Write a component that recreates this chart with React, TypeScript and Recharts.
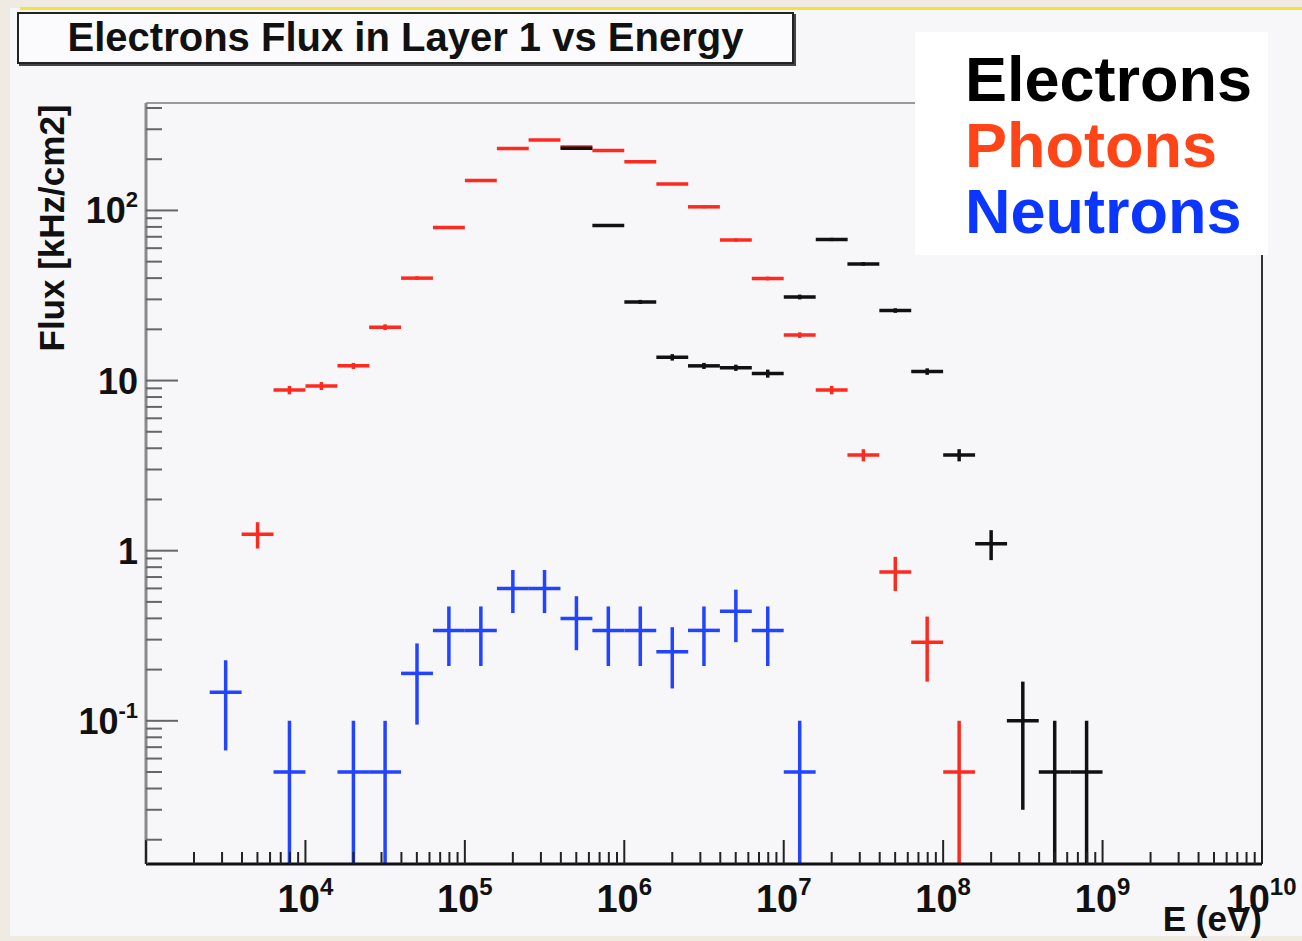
import React from 'react';
import { ErrorBar, ReferenceLine, Scatter, ScatterChart, XAxis, YAxis } from 'recharts';

// bin centres (eV), flux values (kHz/cm2) and their errors
const photonEnergy = [5.01e3, 7.94e3, 1.26e4, 2.0e4, 3.16e4, 5.01e4, 7.94e4, 1.26e5, 2.0e5, 3.16e5, 5.01e5, 7.94e5, 1.26e6, 2.0e6, 3.16e6, 5.01e6, 7.94e6, 1.26e7, 2.0e7, 3.16e7, 5.01e7, 7.94e7, 1.26e8];
const photonFlux = [1.25, 8.8, 9.3, 12.2, 20.6, 40, 79.5, 150, 231, 259, 236, 225, 193, 143, 105, 67, 39.8, 18.5, 8.8, 3.65, 0.75, 0.29, 0.05];
const photonErr = [0.22, 0.5, 0.5, 0.5, 0.8, 1, 1.5, 2, 3, 3, 3, 3, 3, 2, 2, 1.5, 1, 0.7, 0.5, 0.3, 0.17, 0.12, 0.05];

const electronEnergy = [5.01e5, 7.94e5, 1.26e6, 2.0e6, 3.16e6, 5.01e6, 7.94e6, 1.26e7, 2.0e7, 3.16e7, 5.01e7, 7.94e7, 1.26e8, 2.0e8, 3.16e8, 5.01e8, 7.94e8];
const electronFlux = [232, 81.5, 29, 13.7, 12.2, 11.9, 11.0, 31, 67.5, 48.5, 25.8, 11.3, 3.65, 1.1, 0.1, 0.05, 0.05];
const electronErr = [3, 1.5, 0.8, 0.6, 0.5, 0.5, 0.6, 1, 1.5, 1.2, 0.8, 0.5, 0.3, 0.22, 0.07, 0.05, 0.05];

const neutronEnergy = [3.16e3, 7.94e3, 2.0e4, 3.16e4, 5.01e4, 7.94e4, 1.26e5, 2.0e5, 3.16e5, 5.01e5, 7.94e5, 1.26e6, 2.0e6, 3.16e6, 5.01e6, 7.94e6, 1.26e7];
const neutronFlux = [0.147, 0.05, 0.05, 0.05, 0.19, 0.34, 0.34, 0.6, 0.6, 0.4, 0.34, 0.34, 0.255, 0.34, 0.44, 0.34, 0.05];
const neutronErr = [0.08, 0.05, 0.05, 0.05, 0.095, 0.13, 0.13, 0.17, 0.17, 0.14, 0.13, 0.13, 0.1, 0.13, 0.15, 0.13, 0.05];

const xDecades = [3, 4, 5, 6, 7, 8, 9, 10];
const yDecades = [-2, -1, 0, 1, 2];
const yLabels: Record<number, [string, string]> = { 2: ['10', '2'], 1: ['10', ''], 0: ['1', ''], [-1]: ['10', '-1'] };

const X_MIN = 1e3;
const X_MAX = 1e10;
const Y_MIN = 0.0144;
const Y_MAX = 428;
const BIN_HALF = 0.1; // half bin width in decades

const FONT = '"Liberation Sans", Arial, sans-serif';
const RED = '#ff2a1f';
const BLUE = '#2244ff';
const BLACK = '#111111';

function buildSeries(energy: number[], flux: number[], err: number[]) {
  return energy.map((e, i) => ({
    x: e,
    y: flux[i],
    ex: [e - e / Math.pow(10, BIN_HALF), e * Math.pow(10, BIN_HALF) - e],
    ey: [Math.min(err[i], flux[i] - Y_MIN), err[i]],
  }));
}

const photons = buildSeries(photonEnergy, photonFlux, photonErr);
const electrons = buildSeries(electronEnergy, electronFlux, electronErr);
const neutrons = buildSeries(neutronEnergy, neutronFlux, neutronErr);

const xTicks: number[] = [];
xDecades.forEach((d) => {
  for (let m = 1; m <= 9; m++) {
    const v = m * Math.pow(10, d);
    if (v >= X_MIN && v <= X_MAX) xTicks.push(v);
  }
});
const yTicks: number[] = [];
yDecades.forEach((d) => {
  for (let m = 1; m <= 9; m++) {
    const v = m * Math.pow(10, d);
    if (v >= Y_MIN && v <= Y_MAX) yTicks.push(v);
  }
});

const decadeOf = (v: number) => {
  const l = Math.log10(v);
  return Math.abs(l - Math.round(l)) < 1e-6 ? Math.round(l) : null;
};

function XTick(props: any) {
  const { x, y, payload } = props;
  const d = decadeOf(payload.value);
  const major = d !== null;
  return (
    <g>
      <line x1={x} x2={x} y1={y} y2={y - (major ? 24 : 12)} stroke="#222" strokeWidth={2} />
      {major && d! > 3 && (
        <text x={x} y={y + 48} textAnchor="middle" fontFamily={FONT} fontWeight="bold" fontSize={38} fill="#111">
          10
          <tspan dy={-17} fontSize={24}>{d}</tspan>
        </text>
      )}
    </g>
  );
}

function YTick(props: any) {
  const { x, y, payload } = props;
  const d = decadeOf(payload.value);
  const major = d !== null;
  const lab = d !== null ? yLabels[d] : undefined;
  return (
    <g>
      <line x1={x} x2={x + (major ? 32 : 16)} y1={y} y2={y} stroke="#666" strokeWidth={2} />
      {lab && (
        <text x={x - 8} y={y + 13} textAnchor="end" fontFamily={FONT} fontWeight="bold" fontSize={36} fill="#111">
          {lab[0]}
          {lab[1] && <tspan dy={-16} fontSize={22}>{lab[1]}</tspan>}
        </text>
      )}
    </g>
  );
}

const noMarker = () => <g />;

export default function App() {
  return (
    <div style={{ position: 'absolute', left: 0, top: 0, width: 1302, height: 941, background: '#efebe3', overflow: 'hidden' }}>
      <div style={{ position: 'absolute', left: 10, top: 8, right: 0, bottom: 5, background: '#f7f6f9' }} />
      <div style={{ position: 'absolute', left: 20, top: 7, right: 0, height: 3, background: '#f2e33a' }} />

      <div style={{ position: 'absolute', left: 0, top: 0 }}>
        <ScatterChart width={1302} height={941} margin={{ top: 103, right: 40, bottom: 17, left: 46 }}>
          <XAxis
            type="number"
            dataKey="x"
            scale="log"
            domain={[X_MIN, X_MAX]}
            allowDataOverflow
            ticks={xTicks}
            interval={0}
            tick={<XTick />}
            tickLine={false}
            tickSize={0}
            tickMargin={0}
            height={60}
            axisLine={{ stroke: '#111', strokeWidth: 3 }}
          />
          <YAxis
            type="number"
            dataKey="y"
            scale="log"
            domain={[Y_MIN, Y_MAX]}
            allowDataOverflow
            ticks={yTicks}
            interval={0}
            tick={<YTick />}
            tickLine={false}
            tickSize={0}
            tickMargin={0}
            width={100}
            axisLine={{ stroke: '#8a8a8a', strokeWidth: 3 }}
          />
          <ReferenceLine y={Y_MAX} stroke="#9a9a9a" strokeWidth={2} />
          <ReferenceLine x={X_MAX} stroke="#333" strokeWidth={2} />
          <Scatter data={photons} fill={RED} shape={noMarker} isAnimationActive={false}>
            <ErrorBar dataKey="ex" direction="x" width={0} stroke={RED} strokeWidth={3.5} isAnimationActive={false} />
            <ErrorBar dataKey="ey" direction="y" width={0} stroke={RED} strokeWidth={3.5} isAnimationActive={false} />
          </Scatter>
          <Scatter data={electrons} fill={BLACK} shape={noMarker} isAnimationActive={false}>
            <ErrorBar dataKey="ex" direction="x" width={0} stroke={BLACK} strokeWidth={3.5} isAnimationActive={false} />
            <ErrorBar dataKey="ey" direction="y" width={0} stroke={BLACK} strokeWidth={3.5} isAnimationActive={false} />
          </Scatter>
          <Scatter data={neutrons} fill={BLUE} shape={noMarker} isAnimationActive={false}>
            <ErrorBar dataKey="ex" direction="x" width={0} stroke={BLUE} strokeWidth={3.5} isAnimationActive={false} />
            <ErrorBar dataKey="ey" direction="y" width={0} stroke={BLUE} strokeWidth={3.5} isAnimationActive={false} />
          </Scatter>
        </ScatterChart>
      </div>

      <div
        style={{
          position: 'absolute',
          left: 52,
          top: 228,
          transform: 'translate(-50%, -50%) rotate(-90deg)',
          whiteSpace: 'nowrap',
          fontFamily: FONT,
          fontWeight: 'bold',
          fontSize: 35,
          color: '#111',
        }}
      >
        Flux [kHz/cm2]
      </div>

      <div
        style={{
          position: 'absolute',
          right: 40,
          top: 899,
          fontFamily: FONT,
          fontWeight: 'bold',
          fontSize: 35,
          color: '#111',
          lineHeight: '40px',
        }}
      >
        E (eV)
      </div>

      <div
        style={{
          position: 'absolute',
          left: 17,
          top: 12,
          width: 773,
          height: 48,
          border: '2px solid #222',
          boxShadow: '2px 2px 0 #444',
          background: '#fbfafc',
          fontFamily: FONT,
          fontWeight: 'bold',
          fontSize: 40,
          lineHeight: '46px',
          textAlign: 'center',
          color: '#111',
        }}
      >
        Electrons Flux in Layer 1 vs Energy
      </div>

      <div
        style={{
          position: 'absolute',
          left: 915,
          top: 32,
          width: 353,
          height: 223,
          background: '#ffffff',
          fontFamily: FONT,
          fontWeight: 'bold',
          fontSize: 63,
          lineHeight: '66px',
          paddingLeft: 50,
          paddingTop: 14,
          boxSizing: 'border-box',
        }}
      >
        <div style={{ color: '#000000' }}>Electrons</div>
        <div style={{ color: '#ff4517' }}>Photons</div>
        <div style={{ color: '#0b36ff' }}>Neutrons</div>
      </div>
    </div>
  );
}
